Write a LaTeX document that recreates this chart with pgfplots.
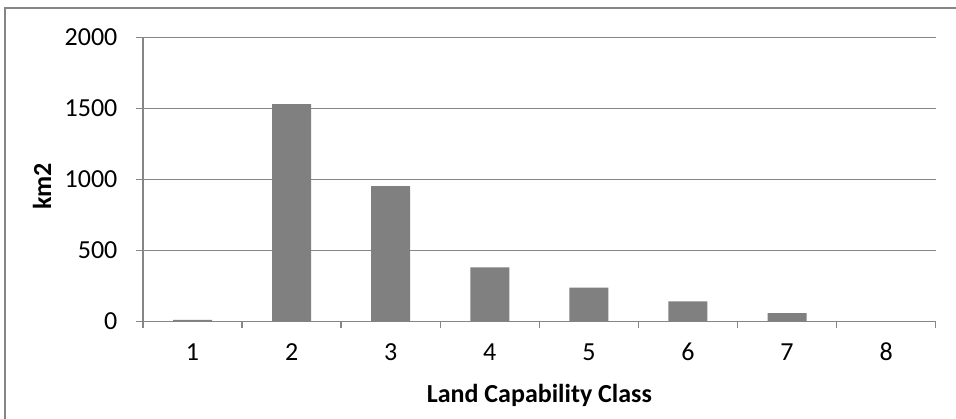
\documentclass[border=0pt]{standalone}
\usepackage{pgfplots}
\pgfplotsset{compat=1.18}
\usepackage{fontspec}
\setmainfont{Carlito}
\definecolor{bargray}{HTML}{808080}
\definecolor{linegray}{HTML}{868686}
\newcommand{\chartfont}{\fontsize{19.5pt}{23pt}\selectfont}
\begin{document}
\chartfont
\begin{tikzpicture}
% page extent; the chart frame runs past the right and bottom edges
\useasboundingbox (0,0) rectangle (717pt,-313.5pt);
\draw[linegray, line width=1pt] (3.75pt,-6pt) rectangle (722pt,-322pt);
\begin{axis}[
  at={(107.25pt,-241.05pt)}, anchor=south west,
  scale only axis, width=594.5pt, height=213.1pt,
  xmin=0.5, xmax=8.5, ymin=0, ymax=2000,
  separate axis lines,
  axis x line*=bottom, axis y line*=left,
  axis line style={linegray, line width=1.1pt},
  tick align=outside,
  xtick={1,...,8},
  major x tick style={draw=none},
  minor xtick={0.5,1.5,...,8.5},
  minor x tick style={linegray, line width=1.1pt},
  minor tick length=5pt,
  ytick={0,500,...,2000},
  major y tick style={linegray, line width=1.1pt},
  major tick length=5pt,
  ymajorgrids,
  major grid style={linegray, line width=1.1pt},
  /pgf/number format/assume math mode=true,
  /pgf/number format/1000 sep={},
  tick label style={font=\chartfont, text=black, inner sep=0pt},
  yticklabel style={anchor=east, xshift=-14pt},
  xticklabel style={anchor=base, yshift=-24.5pt},
  xlabel={\textbf{Land Capability Class}},
  ylabel={\textbf{km2}},
  label style={font=\chartfont},
  xlabel style={at={(axis description cs:0.5,-0.287)}, anchor=base},
  ylabel style={at={(axis description cs:-0.1274,0.475)}, anchor=center},
]
\addplot[ybar, bar width=29.25pt, fill=bargray, draw=none]
  coordinates {(1,10) (2,1530) (3,952) (4,381) (5,237) (6,141) (7,59) (8,1)};
\end{axis}
\end{tikzpicture}
\end{document}
